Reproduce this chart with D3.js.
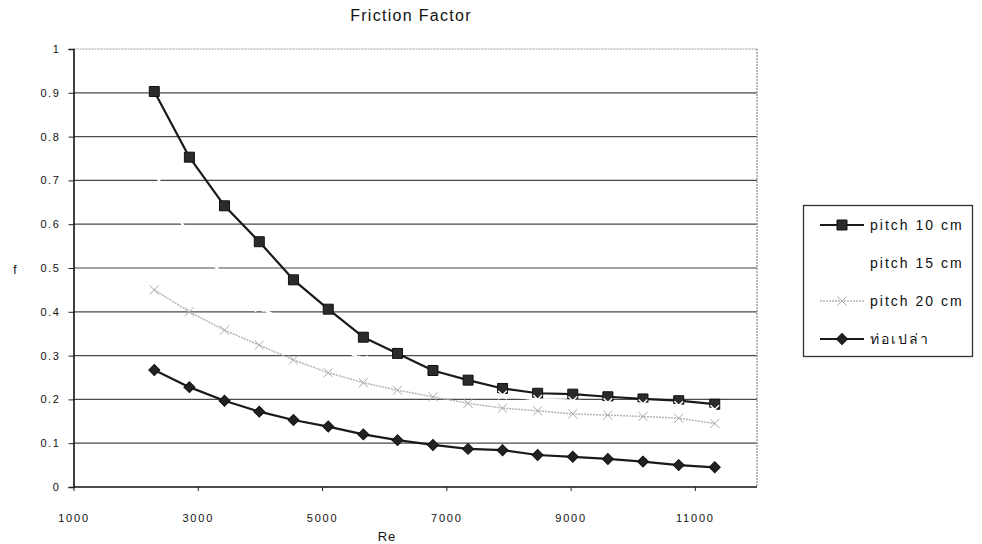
<!DOCTYPE html>
<html>
<head>
<meta charset="utf-8">
<script src="https://cdn.jsdelivr.net/npm/d3@7"></script>
<style>
  html, body { margin: 0; padding: 0; background: #fff; }
  svg { display: block; }
  text { font-family: "Liberation Sans", Arial, sans-serif; fill: #111; }
</style>
</head>
<body>
<svg id="chart" width="982" height="544"></svg>
<script>
// Reynolds numbers of the measured points
const reynolds = [2300, 2865, 3430, 3990, 4540, 5100, 5665, 6215, 6785, 7350, 7905, 8470, 9035, 9600, 10165, 10740, 11320];

// Friction factor for each configuration
const pitch10 = [0.903, 0.753, 0.642, 0.560, 0.473, 0.406, 0.342, 0.305, 0.266, 0.244, 0.225, 0.214, 0.212, 0.206, 0.201, 0.197, 0.189];
const pitch15 = [0.72, 0.57, 0.48, 0.41, 0.37, 0.33, 0.29, 0.262, 0.24, 0.220, 0.210, 0.200, 0.197, 0.193, 0.190, 0.186, 0.177];
const pitch20 = [0.450, 0.400, 0.358, 0.324, 0.290, 0.261, 0.238, 0.221, 0.206, 0.191, 0.180, 0.174, 0.167, 0.164, 0.161, 0.157, 0.145];
const plainTube = [0.267, 0.228, 0.197, 0.172, 0.153, 0.138, 0.120, 0.107, 0.096, 0.087, 0.084, 0.073, 0.069, 0.064, 0.058, 0.050, 0.045];

const seriesNames = ["pitch 10 cm", "pitch 15 cm", "pitch 20 cm", "ท่อเปล่า"];

const xTicks = [1000, 3000, 5000, 7000, 9000, 11000];
const yTicks = [0, 0.1, 0.2, 0.3, 0.4, 0.5, 0.6, 0.7, 0.8, 0.9, 1];

const svg = d3.select("#chart");

const x = d3.scaleLinear().domain([1000, 12000]).range([73.5, 757]);
const y = d3.scaleLinear().domain([0, 1]).range([487, 49]);

// Title
svg.append("text")
  .attr("x", 411).attr("y", 21)
  .attr("text-anchor", "middle")
  .style("font-size", "16px")
  .style("letter-spacing", "1.3px")
  .text("Friction Factor");

// Horizontal gridlines
const grid = svg.append("g");
grid.selectAll("line")
  .data(yTicks.filter(d => d > 0))
  .join("line")
  .attr("x1", x(1000)).attr("x2", x(12000))
  .attr("y1", d => y(d)).attr("y2", d => y(d))
  .attr("stroke", d => d === 1 ? "#9a9a9a" : "#4a4a4a")
  .attr("stroke-dasharray", d => d === 1 ? "2,1" : null)
  .attr("stroke-width", 1.2);

// Right border of plot area
svg.append("line")
  .attr("x1", x(12000)).attr("x2", x(12000))
  .attr("y1", y(1)).attr("y2", y(0))
  .attr("stroke", "#8a8a8a")
  .attr("stroke-dasharray", "2,1")
  .attr("stroke-width", 1.2);

// Y axis
const yAxis = d3.axisLeft(y).tickValues(yTicks).tickSize(5).tickPadding(8)
  .tickFormat(d => d === 0 ? "0" : d === 1 ? "1" : d3.format(".1f")(d));
const gy = svg.append("g").attr("transform", `translate(${x(1000)},0)`).call(yAxis);
gy.select(".domain").attr("stroke", "#111").attr("stroke-width", 1.6);
gy.selectAll(".tick line").attr("stroke", "#222");
gy.selectAll(".tick text")
  .style("font-size", "11px").style("letter-spacing", "1.6px")
  .style("font-family", "'Liberation Sans', Arial, sans-serif").attr("fill", "#111");

// X axis
const xAxis = d3.axisBottom(x).tickValues(xTicks).tickSize(4).tickPadding(23)
  .tickFormat(d3.format("d"));
const gx = svg.append("g").attr("transform", `translate(0,${y(0)})`).call(xAxis);
gx.select(".domain").attr("stroke", "#111").attr("stroke-width", 1.6)
  .attr("d", `M${x(1000)},0H${x(12000)}`);
gx.selectAll(".tick line").attr("stroke", "#222");
gx.selectAll(".tick text")
  .style("font-size", "11px").style("letter-spacing", "1.8px")
  .style("font-family", "'Liberation Sans', Arial, sans-serif").attr("fill", "#111");

// Axis titles
svg.append("text").attr("x", 15).attr("y", 274).attr("text-anchor", "middle")
  .style("font-size", "12px").text("f");
svg.append("text").attr("x", 387).attr("y", 541).attr("text-anchor", "middle")
  .style("font-size", "13px").style("letter-spacing", "1px").text("Re");

// Marker shapes
const squareSym = d3.symbol(d3.symbolSquare, 100);
const diamondSym = d3.symbol(d3.symbolSquare, 60);
const timesSym = d3.symbol(d3.symbolTimes || d3.symbolCross, 50);
const timesSmall = d3.symbol(d3.symbolTimes || d3.symbolCross, 55);

const seriesDefs = [
  { name: seriesNames[0], values: pitch10, stroke: "#1a1a1a", width: 2.2, dash: null,
    marker: squareSym, rotate: 0, fill: "#2b2b2b", mstroke: "#111", mwidth: 1 },
  { name: seriesNames[1], values: pitch15, stroke: "#ffffff", width: 2.5, dash: null,
    marker: timesSym, rotate: 0, fill: "none", mstroke: "#ffffff", mwidth: 1.4 },
  { name: seriesNames[2], values: pitch20, stroke: "#b4b4b4", width: 1.5, dash: "2,1",
    marker: timesSmall, rotate: 0, fill: "none", mstroke: "#a8a8a8", mwidth: 1 },
  { name: seriesNames[3], values: plainTube, stroke: "#1a1a1a", width: 2.2, dash: null,
    marker: diamondSym, rotate: 45, fill: "#222", mstroke: "#111", mwidth: 1 }
];

const line = d3.line().x(d => x(d[0])).y(d => y(d[1]));

seriesDefs.forEach(s => {
  const pts = reynolds.map((r, i) => [r, s.values[i]]);
  const g = svg.append("g");
  g.append("path")
    .attr("d", line(pts))
    .attr("fill", "none")
    .attr("stroke", s.stroke)
    .attr("stroke-width", s.width)
    .attr("stroke-dasharray", s.dash)
    .attr("stroke-linejoin", "round");
  g.selectAll("path.m")
    .data(pts)
    .join("path")
    .attr("class", "m")
    .attr("d", s.marker())
    .attr("transform", d => `translate(${x(d[0])},${y(d[1])}) rotate(${s.rotate})`)
    .attr("fill", s.fill)
    .attr("stroke", s.mstroke)
    .attr("stroke-width", s.mwidth);
});

// Legend
const legend = svg.append("g");
legend.append("rect")
  .attr("x", 803.5).attr("y", 205.5).attr("width", 169).attr("height", 151)
  .attr("fill", "#fff").attr("stroke", "#333").attr("stroke-width", 1.3);

const rowY = d3.scalePoint().domain(seriesNames).range([225, 339]);
seriesDefs.forEach(s => {
  const ry = rowY(s.name);
  legend.append("line")
    .attr("x1", 820).attr("x2", 864).attr("y1", ry).attr("y2", ry)
    .attr("stroke", s.stroke).attr("stroke-width", s.width)
    .attr("stroke-dasharray", s.dash);
  legend.append("path")
    .attr("d", s.marker())
    .attr("transform", `translate(842,${ry}) rotate(${s.rotate})`)
    .attr("fill", s.fill).attr("stroke", s.mstroke).attr("stroke-width", s.mwidth);
  legend.append("text")
    .attr("x", 870).attr("y", ry + 5)
    .style("font-size", "14px").style("letter-spacing", "2px")
    .text(s.name);
});
</script>
</body>
</html>
